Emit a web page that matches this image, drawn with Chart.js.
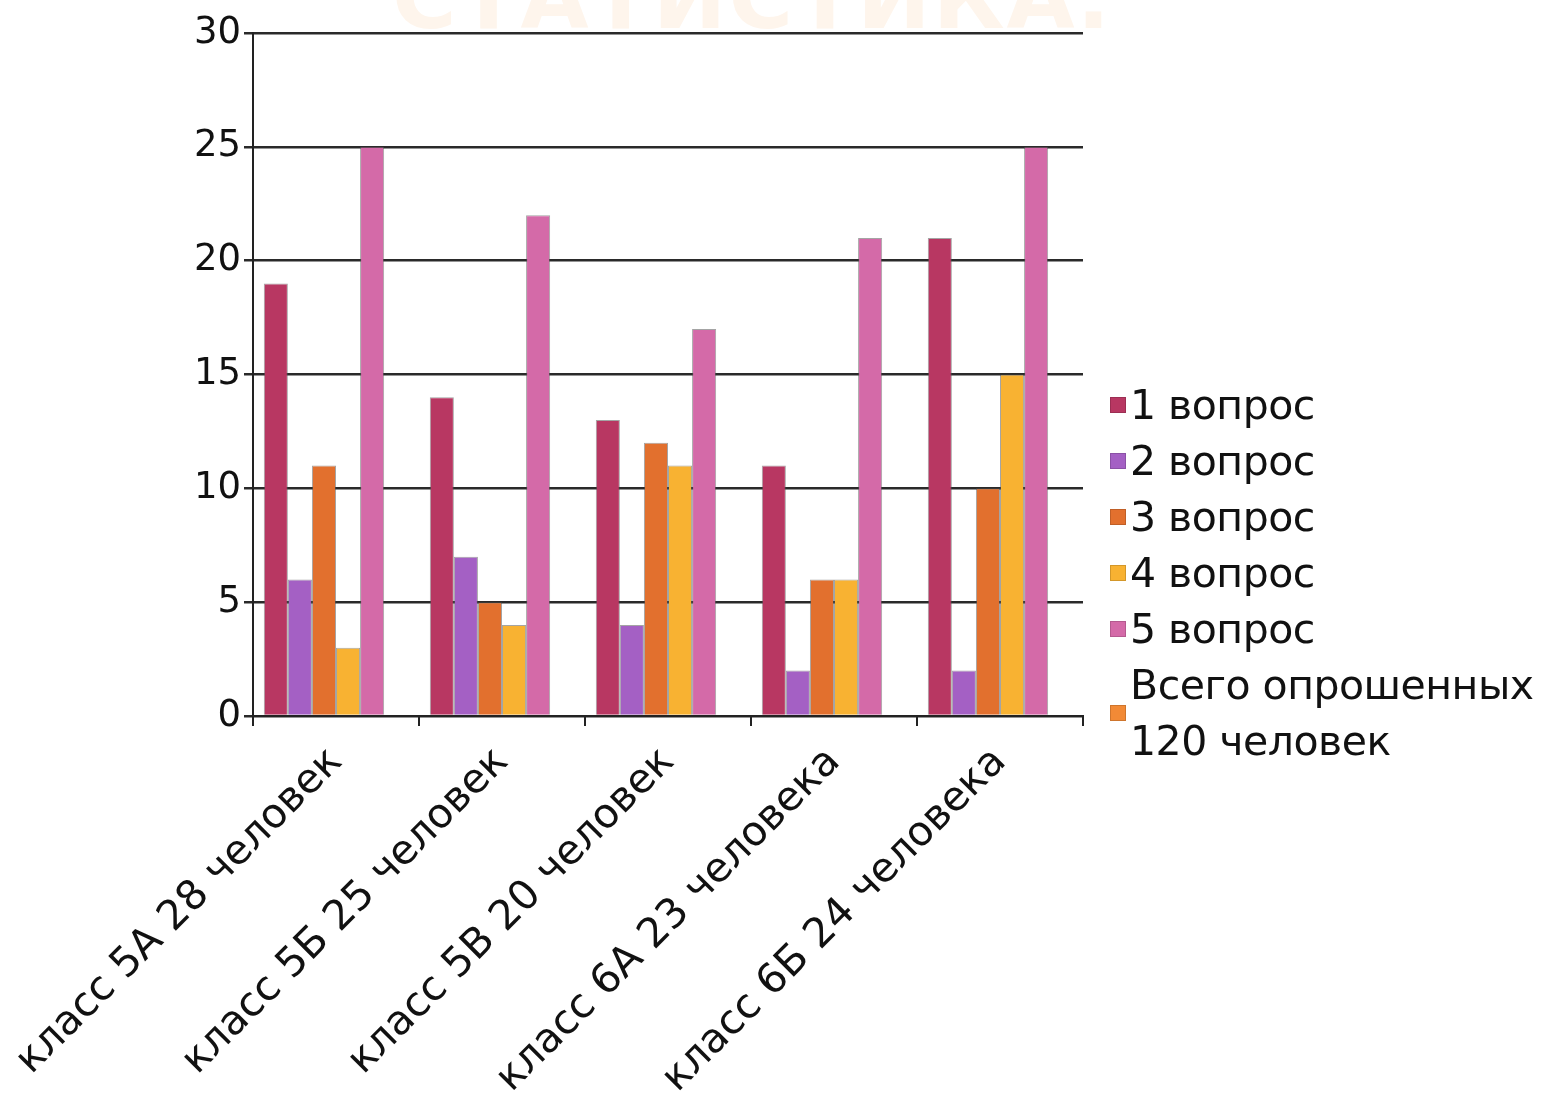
<!DOCTYPE html>
<html>
<head>
<meta charset="utf-8">
<script src="https://cdn.jsdelivr.net/npm/chart.js@4"></script>
<style>
  html, body { margin: 0; padding: 0; background: #fff; }
  #wrap { position: relative; width: 1556px; height: 1108px; overflow: hidden; }
  #watermark {
    position: absolute; left: 392px; top: -54px;
    font: bold 88px "DejaVu Sans", sans-serif; color: #fef5ec; letter-spacing: 2px;
    white-space: nowrap;
  }
  #chart { position: absolute; left: 0; top: 0; }
  #legend { position: absolute; left: 1110px; top: 377px; font: 41px "DejaVu Sans", sans-serif; color: #111; letter-spacing: -0.5px; }
  .item { display: flex; align-items: center; height: 56px; }
  .sw { width: 14px; height: 14px; margin-right: 4px; flex: none; border: 1px solid rgba(0,0,0,0.15); }
  .item.two { height: 112px; line-height: 56px; }
</style>
</head>
<body>
<div id="wrap">
  <div id="watermark">СТАТИСТИКА.</div>
  <canvas id="chart" width="1556" height="1108"></canvas>
  <div id="legend"></div>
</div>
<script>
const classes = ["класс 5А 28 человек", "класс 5Б 25 человек", "класс 5В 20 человек", "класс 6А 23 человека", "класс 6Б 24 человека"];
const seriesNames = ["1 вопрос", "2 вопрос", "3 вопрос", "4 вопрос", "5 вопрос", "Всего опрошенных 120 человек"];
const q1 = [19, 14, 13, 11, 21];
const q2 = [6, 7, 4, 2, 2];
const q3 = [11, 5, 12, 6, 10];
const q4 = [3, 4, 11, 6, 15];
const q5 = [25, 22, 17, 21, 25];
const total = [null, null, null, null, null];
const colors = ['#b83762', '#a460c4', '#e2702e', '#f8b232', '#d46aa8', '#f28a36'];

const series = [q1, q2, q3, q4, q5, total];

const chartData = {
  labels: classes,
  datasets: series.map((d, i) => ({
    label: seriesNames[i],
    data: d,
    backgroundColor: colors[i],
    borderColor: 'rgba(90,90,90,0.55)',
    borderWidth: 1,
    categoryPercentage: 0.87,
    barPercentage: 1
  }))
}

const chartOptions = {
  responsive: false,
  animation: false,
  layout: { padding: { left: 0, right: 473, top: 33, bottom: 0 } },
  scales: {
    x: {
      offset: true,
      grid: { drawOnChartArea: false, drawTicks: true, tickLength: 10, color: '#222', lineWidth: 2, offset: true },
      border: { color: '#222', width: 2 },
      ticks: {
        color: '#111', maxRotation: 45, minRotation: 45, padding: 12,
        font: { family: 'DejaVu Sans', size: 41 }
      },
      afterFit: (scale) => {
        scale.height = 392;
        // let the first slanted label run to the page edge instead of pushing the plot right
        scale.paddingLeft = 0;
        scale.paddingRight = 0;
      }
    },
    y: {
      min: 0, max: 30,
      grid: { color: '#2a2a2a', lineWidth: 2.5, tickLength: 9 },
      border: { color: '#222', width: 2 },
      ticks: {
        stepSize: 5, color: '#111', padding: 3,
        font: { family: 'DejaVu Sans', size: 37 }
      },
      afterFit: (scale) => { scale.width = 253; }
    }
  },
  plugins: {
    legend: { display: false },
    tooltip: { enabled: false }
  }
}

const chart = new Chart(document.getElementById('chart'), { type: 'bar', data: chartData, options: chartOptions });

// legend drawn as html so the last label can wrap like the original
const legend = document.getElementById('legend');
chart.data.datasets.forEach((ds, i) => {
  const row = document.createElement('div');
  row.className = 'item';
  const sw = document.createElement('span');
  sw.className = 'sw';
  sw.style.background = ds.backgroundColor;
  const txt = document.createElement('span');
  if (i === 5) {
    row.className = 'item two';
    txt.innerHTML = 'Всего опрошенных<br>120 человек';
  } else {
    txt.textContent = ds.label;
  }
  row.appendChild(sw);
  row.appendChild(txt);
  legend.appendChild(row);
});
</script>
</body>
</html>
